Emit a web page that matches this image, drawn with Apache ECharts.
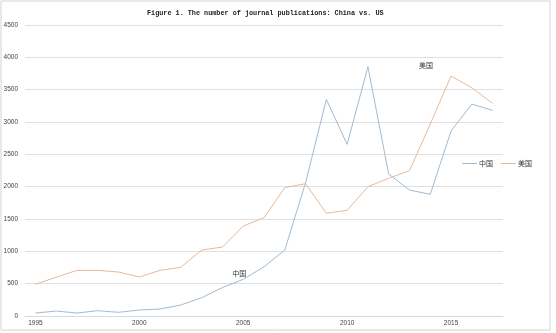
<!DOCTYPE html>
<html>
<head>
<meta charset="utf-8">
<script src="https://cdn.jsdelivr.net/npm/echarts@6/dist/echarts.min.js"></script>
<style>
  html, body { margin: 0; padding: 0; background: #fff; }
  #chart { width: 556px; height: 333px; }
</style>
</head>
<body>
<div id="chart"></div>
<script>
// Years on the horizontal axis
const years = ['1995','1996','1997','1998','1999','2000','2001','2002','2003','2004','2005',
               '2006','2007','2008','2009','2010','2011','2012','2013','2014','2015','2016','2017'];

// Journal publications per year
const chinaValues = [46, 77, 46, 82, 57, 93, 108, 170, 283, 440, 567,
                     762, 1020, 2060, 3350, 2654, 3854, 2195, 1948, 1881, 2860, 3277, 3180];
const usValues = [490, 600, 706, 706, 680, 603, 706, 753, 1020, 1066, 1391,
                  1520, 1984, 2046, 1588, 1634, 2000, 2129, 2247, 2968, 3710, 3530, 3288];

const seriesNames = ['中国', '美国'];
const titleText = 'Figure 1. The number of journal publications: China vs. US';

// Points that carry the series-name callouts
const chinaLabelYear = '2005';
const usLabelYear = '2015';

const chart = echarts.init(document.getElementById('chart'));

chart.setOption({
  backgroundColor: '#ffffff',
  animation: false,
  title: {
    text: titleText,
    left: 142,
    top: 5,
    textStyle: {
      fontFamily: 'Liberation Mono',
      fontWeight: 'bold',
      fontSize: 6.8,
      color: '#222'
    }
  },
  legend: {
    data: seriesNames,
    left: 462,
    top: 160,
    padding: 0,
    orient: 'horizontal',
    icon: 'rect',
    itemWidth: 15,
    itemHeight: 1,
    itemGap: 8,
    textStyle: { fontSize: 7, color: '#333', fontFamily: 'Noto Sans CJK SC', padding: [0, 0, 0, -3] }
  },
  grid: { left: 25, right: 53, top: 25, bottom: 17 },
  xAxis: {
    type: 'category',
    data: years,
    boundaryGap: true,
    axisLine: { lineStyle: { color: '#d9d9d9' } },
    axisTick: { show: false },
    axisLabel: {
      interval: 4,
      fontSize: 6.5,
      color: '#444',
      fontFamily: 'Liberation Sans',
      margin: 4
    }
  },
  yAxis: {
    type: 'value',
    min: 0,
    max: 4500,
    interval: 500,
    axisLine: { show: false },
    axisTick: { show: false },
    splitLine: { lineStyle: { color: '#e0e0e0', width: 1 } },
    axisLabel: {
      fontSize: 6.5,
      color: '#444',
      fontFamily: 'Liberation Sans',
      margin: 7,
      formatter: (v) => String(v)
    }
  },
  graphic: [{
    type: 'rect',
    shape: { x: 1, y: 1, width: 549, height: 329 },
    style: { fill: 'none', stroke: '#d4d4d4', lineWidth: 1 },
    silent: true
  }],
  series: [
    {
      name: seriesNames[0],
      type: 'line',
      data: chinaValues,
      symbol: 'none',
      color: '#a3bbcf',
      lineStyle: { width: 1, color: '#a3bbcf' },
      markPoint: {
        symbol: 'circle',
        symbolSize: 0,
        data: [{
          coord: [chinaLabelYear, chinaValues[years.indexOf(chinaLabelYear)]],
          label: { formatter: seriesNames[0], offset: [-4, -6] }
        }],
        label: { show: true, fontSize: 7, color: '#333', fontFamily: 'Noto Sans CJK SC' }
      }
    },
    {
      name: seriesNames[1],
      type: 'line',
      data: usValues,
      symbol: 'none',
      color: '#e9b89c',
      lineStyle: { width: 1, color: '#e9b89c' },
      markPoint: {
        symbol: 'circle',
        symbolSize: 0,
        data: [{
          coord: [usLabelYear, usValues[years.indexOf(usLabelYear)]],
          label: { formatter: seriesNames[1], offset: [-25, -11] }
        }],
        label: { show: true, fontSize: 7, color: '#333', fontFamily: 'Noto Sans CJK SC' }
      }
    }
  ]
});
</script>
</body>
</html>
